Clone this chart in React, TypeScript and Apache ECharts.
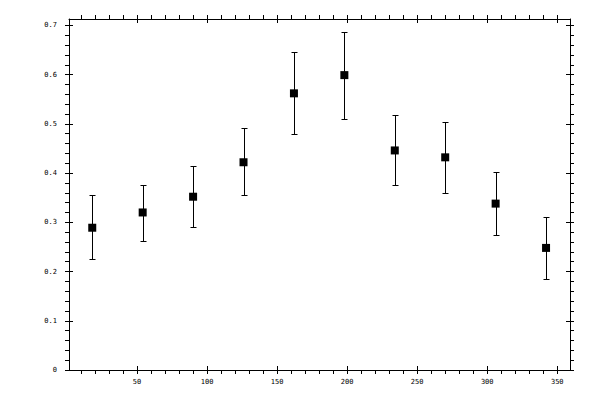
import { useEffect, useRef } from 'react';
import * as echarts from 'echarts';

// measured points (x = bin centre) with lower / upper error limits
const xValues = [18, 54, 90, 126, 162, 198, 234, 270, 306, 342];
const yValues = [0.289, 0.32, 0.352, 0.422, 0.562, 0.599, 0.446, 0.432, 0.338, 0.248];
const yUpper = [0.355, 0.375, 0.415, 0.491, 0.646, 0.686, 0.517, 0.503, 0.403, 0.311];
const yLower = [0.226, 0.263, 0.291, 0.355, 0.479, 0.509, 0.375, 0.36, 0.275, 0.185];

// tick labels
const xMajorTicks = [50, 100, 150, 200, 250, 300, 350];
const yMajorTicks = [0, 0.1, 0.2, 0.3, 0.4, 0.5, 0.6, 0.7];

const X_MIN = 1.4;
const X_MAX = 359.1;
const Y_MIN = 0;
const Y_MAX = 0.713;

// minor ticks every 10 on x, every 0.02 on y
const xMinorTicks = Array.from({ length: 36 }, (_, i) => (i + 1) * 10).filter(v => v > X_MIN && v < X_MAX);
const yMinorTicks = Array.from({ length: 36 }, (_, i) => Math.round(i * 2) / 100).filter(v => v >= Y_MIN && v <= Y_MAX);

const FONT = 'DejaVu Sans Mono';
const BLACK = '#000000';

const App = () => {
    const chartRef = useRef<HTMLDivElement>(null);

    useEffect(() => {
        document.body.style.margin = '0';
        if (!chartRef.current) return;
        const chart = echarts.init(chartRef.current, null, { renderer: 'svg' });

        const lineStyle = { color: BLACK, width: 1 };

        // outer axis: line + all ticks pointing outwards (+ labels)
        const outerX = (position: 'top' | 'bottom', labels: boolean) => ({
            type: 'value' as const,
            position,
            min: X_MIN,
            max: X_MAX,
            axisLine: { show: true, onZero: false, lineStyle },
            axisTick: { show: true, inside: false, length: 4, customValues: xMinorTicks, lineStyle },
            axisLabel: {
                show: labels,
                customValues: xMajorTicks,
                color: BLACK,
                fontFamily: FONT,
                fontSize: 7,
                margin: 8
            },
            splitLine: { show: false }
        });
        // inner axis: major ticks only, pointing inwards
        const innerX = (position: 'top' | 'bottom') => ({
            type: 'value' as const,
            position,
            min: X_MIN,
            max: X_MAX,
            axisLine: { show: false, onZero: false },
            axisTick: { show: true, inside: true, length: 4, customValues: xMajorTicks, lineStyle },
            axisLabel: { show: false },
            splitLine: { show: false }
        });
        const outerY = (position: 'left' | 'right', labels: boolean) => ({
            type: 'value' as const,
            position,
            min: Y_MIN,
            max: Y_MAX,
            axisLine: { show: true, onZero: false, lineStyle },
            axisTick: { show: true, inside: false, length: 4, customValues: yMinorTicks, lineStyle },
            axisLabel: {
                show: labels,
                customValues: yMajorTicks,
                color: BLACK,
                fontFamily: FONT,
                fontSize: 7,
                margin: 12
            },
            splitLine: { show: false }
        });
        const innerY = (position: 'left' | 'right') => ({
            type: 'value' as const,
            position,
            min: Y_MIN,
            max: Y_MAX,
            axisLine: { show: false, onZero: false },
            axisTick: { show: true, inside: true, length: 4, customValues: yMajorTicks, lineStyle },
            axisLabel: { show: false },
            splitLine: { show: false }
        });

        const errorData = xValues.map((x, i) => [x, yLower[i], yUpper[i]]);
        const pointData = xValues.map((x, i) => [x, yValues[i]]);

        chart.setOption({
            animation: false,
            backgroundColor: '#ffffff',
            grid: { left: 69, right: 30, top: 19, bottom: 30, containLabel: false },
            xAxis: [outerX('bottom', true), innerX('bottom'), outerX('top', false), innerX('top')],
            yAxis: [outerY('left', true), innerY('left'), outerY('right', false), innerY('right')],
            series: [
                {
                    type: 'custom',
                    xAxisIndex: 0,
                    yAxisIndex: 0,
                    data: errorData,
                    z: 1,
                    renderItem: (_params: any, api: any) => {
                        const x = api.value(0);
                        const lo = api.coord([x, api.value(1)]);
                        const hi = api.coord([x, api.value(2)]);
                        // snap to the pixel grid so the 1px lines stay crisp
                        const px = Math.round(lo[0]) + 0.5;
                        const yLo = Math.round(lo[1]) + 0.5;
                        const yHi = Math.round(hi[1]) + 0.5;
                        const half = 3;
                        const style = { stroke: BLACK, lineWidth: 1, fill: 'none' };
                        return {
                            type: 'group',
                            children: [
                                { type: 'line', shape: { x1: px, y1: yLo, x2: px, y2: yHi }, style },
                                { type: 'line', shape: { x1: px - half, y1: yHi, x2: px + half, y2: yHi }, style },
                                { type: 'line', shape: { x1: px - half, y1: yLo, x2: px + half, y2: yLo }, style }
                            ]
                        };
                    }
                },
                {
                    type: 'scatter',
                    xAxisIndex: 0,
                    yAxisIndex: 0,
                    data: pointData,
                    symbol: 'rect',
                    symbolSize: 8,
                    itemStyle: { color: BLACK, opacity: 1 },
                    z: 2
                }
            ]
        });

        return () => {
            chart.dispose();
        };
    }, []);

    return <div ref={chartRef} style={{ width: '600px', height: '400px' }} />;
};

export default App;
